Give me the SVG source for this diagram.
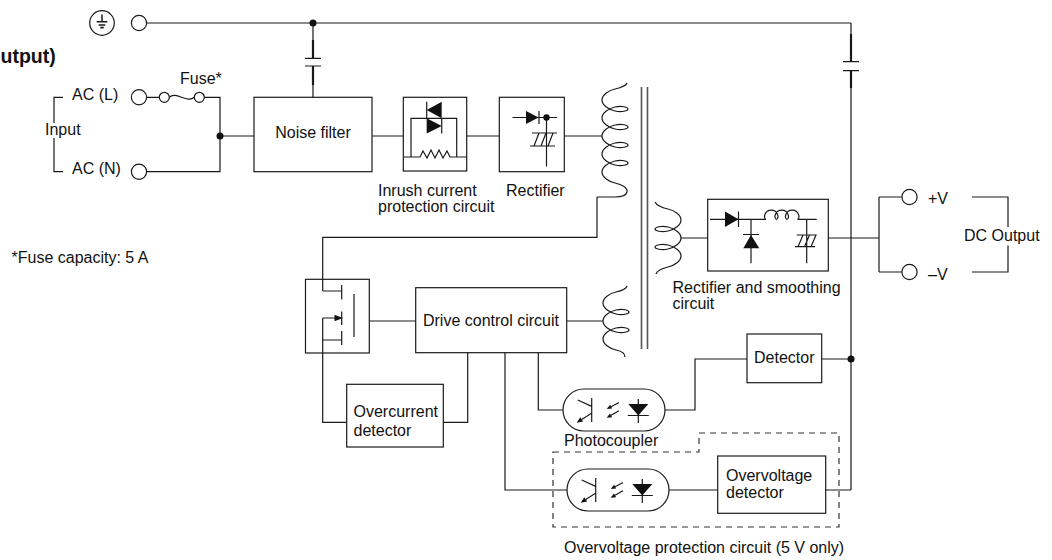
<svg xmlns="http://www.w3.org/2000/svg" width="1052" height="560" viewBox="0 0 1052 560">
<defs>
<style>
.w{fill:none;stroke:#1a1a1a;stroke-width:1.2}
.k{fill:none;stroke:#1a1a1a;stroke-width:2.2}
.f{fill:#111;stroke:none}
.core{fill:none;stroke:#555;stroke-width:1.6}
.dash{fill:none;stroke:#333;stroke-width:1.2;stroke-dasharray:6,5}
.t{font-family:"Liberation Sans",Arial,Helvetica,sans-serif;font-size:16px;fill:#111}
.m{text-anchor:middle}
.bold{font-weight:bold;font-size:19.5px}
</style>
<g id="opto">
<rect class="w" x="0" y="-21" width="102" height="42" rx="21"/>
<path class="w" d="M28.7,-12 V12 M14.7,-10 L28.7,-3.6 M28.5,3.3 L18.7,9.4 M56,-7.5 L48.1,-3.3 M56,0.8 L48,5.3 M75.3,-11 V13 M64.8,5.5 H85.8"/>
<polygon class="f" points="13.7,12.7 20.15,11.57 17.29,7.23"/>
<polygon class="f" points="43.7,-1 49.15,-1.4 47.09,-5.28"/>
<polygon class="f" points="43.7,7.8 49.14,7.23 46.96,3.41"/>
<polygon class="f" points="65.3,-6 85.3,-6 75.3,5.5"/>
</g>
</defs>
<rect width="1052" height="560" fill="#fff"/>

<g id="connectors">
<path class="w" d="M146.5,23 H851"/>
<path class="w" d="M313,23 V40 M313,85 V97.3 M305,58.3 H321 M305,66 H321"/>
<path class="k" d="M313,40 V58.3 M313,66 V85"/>
<path class="w" d="M851,23 V34 M851,88 V490 M843,61.7 H859 M843,70.7 H859"/>
<path class="k" d="M851,34 V61.7 M851,70.7 V88"/>
<path class="w" d="M146.5,97.3 H159.3 M169.3,97.3 C176,90.5 187,104 194.3,97.3 M204.3,97.3 H220 V171.7 H146.5"/>
<path class="w" d="M220,136 H254 M372,136 H403.3 M466.7,136 H499.3 M564.3,136 H602"/>
<path class="w" d="M597,197 V237.3 H322.7 V291"/>
<path class="w" d="M322.7,318 V422.3 H346.7"/>
<path class="w" d="M369.3,321 H415.7 M566.7,321 H603"/>
<path class="w" d="M467.7,352.7 V422.3 H443.3"/>
<path class="w" d="M505,352.7 V490 H567"/>
<path class="w" d="M538.3,352.7 V410 H563"/>
<path class="w" d="M665,410 H695 V359 H747 M821.7,359 H851"/>
<path class="w" d="M669,490 H717.7 M825.7,490 H851"/>
<path class="w" d="M681,238 H707.7 M828.3,238 H879 M879,197 V272 M879,197 H901.7 M879,272 H901.7"/>
<path class="w" d="M972,197 H1008 V227 M1008,245.5 V272 H972"/>
<path class="w" d="M63,97.3 H54 V123 M54,138 V171.7 H63"/>
<circle class="f" cx="313" cy="23" r="3.5"/>
<circle class="f" cx="220" cy="136" r="3.5"/>
<circle class="f" cx="851" cy="359" r="3.5"/>
</g>

<g id="terminals">
<circle class="w" cx="102" cy="23" r="12.3"/>
<path class="w" d="M102,14.5 V21.7" style="stroke-width:1.5"/>
<path class="w" d="M96.7,21.7 H107.3 M98.7,25 H105.3 M100.3,27.6 H103.7" style="stroke-width:1.6"/>
<circle class="w" cx="139" cy="23" r="7.6"/>
<circle class="w" cx="139" cy="97.3" r="7.6"/>
<circle class="w" cx="139" cy="171.7" r="7.6"/>
<circle class="w" cx="909.5" cy="197" r="7.6"/>
<circle class="w" cx="909.5" cy="272" r="7.6"/>
</g>

<g id="fuse">
<circle class="w" cx="164.3" cy="97.3" r="5"/>
<circle class="w" cx="199.3" cy="97.3" r="5"/>
</g>

<g id="noise-filter">
<rect class="w" x="254" y="97.3" width="118" height="74.4"/>
<text class="t m" x="313" y="138">Noise filter</text>
</g>

<g id="inrush">
<rect class="w" x="403.3" y="97.3" width="63.4" height="73.7"/>
<path class="w" d="M411,157 V118.3 H456.7 V157 M403.3,157 H420 L423,151 L427,158 L431,150 L435,158 L439,150 L443,158 L447,151 L450,157 H466.7 M426.7,101.7 V118.3 M441.7,118.3 V133.5"/>
<polygon class="f" points="441.7,101.7 441.7,118.3 426.7,110"/>
<polygon class="f" points="426.7,118.3 426.7,133.5 441.7,126"/>
</g>

<g id="rectifier">
<rect class="w" x="499.3" y="97.3" width="65" height="74.4"/>
<path class="w" d="M512.5,117.5 H557 M539,111 V124 M546.5,117.5 V166.5 M532,133 H557 M530,146 H555 M534,146 L539,133 M541,146 L546,133 M548,146 L553,133"/>
<polygon class="f" points="526,111 526,124 538.5,117.5"/>
<circle class="f" cx="546.5" cy="117.5" r="3.2"/>
</g>

<g id="transformer">
<path class="core" d="M641.5,87 V349 M647.5,87 V349"/>
<path class="w" d="M627,83 C626,86 621.8,87.5 615,89 c-6.81,1.5 -13,6.1 -13,11 c0,4.9 6.19,9.5 13,11 c6.81,1.5 13,-0.1 13,-2 c0,-1.9 -6.19,-3.5 -13,-2 c-6.81,1.5 -13,6.1 -13,11 c0,4.9 6.19,9.5 13,11 c6.81,1.5 13,-0.1 13,-2 c0,-1.9 -6.19,-3.5 -13,-2 c-6.81,1.5 -13,6.1 -13,11 c0,4.9 6.19,9.5 13,11 c6.81,1.5 13,-0.1 13,-2 c0,-1.9 -6.19,-3.5 -13,-2 c-6.81,1.5 -13,6.1 -13,11 c0,4.9 6.19,9.5 13,11 c6.81,1.5 13,-0.1 13,-2 c0,-1.9 -6.19,-3.5 -13,-2 c-6.81,1.5 -13,6.1 -13,11 c0,4.9 6.19,9.5 13,11 C622,184.5 628,188 627,192 C626,196 621,197 615,197 H597"/>
<path class="w" d="M655,202 C656.5,205 661.2,207.5 668,209 c6.81,1.5 13,6.1 13,11 c0,4.9 -6.19,9.5 -13,11 c-6.81,1.5 -13,-0.1 -13,-2 c0,-1.9 6.19,-3.5 13,-2 c6.81,1.5 13,6.1 13,11 c0,4.9 -6.19,9.5 -13,11 c-6.81,1.5 -13,-0.1 -13,-2 c0,-1.9 6.19,-3.5 13,-2 c6.81,1.5 13,6.1 13,11 c0,4.9 -6.19,9.5 -13,11 C662,268.5 657,270 656,274"/>
<path class="w" d="M627,286 C626,289 622.8,290.5 616,292 c-6.81,1.5 -13,6.1 -13,11 c0,4.9 6.19,9.5 13,11 c6.81,1.5 13,-0.1 13,-2 c0,-1.9 -6.19,-3.5 -13,-2 c-6.81,1.5 -13,6.1 -13,11 c0,4.9 6.19,9.5 13,11 c6.81,1.5 13,-0.1 13,-2 c0,-1.9 -6.19,-3.5 -13,-2 c-6.81,1.5 -13,6.1 -13,11 c0,4.9 6.19,9.5 13,11 C621,351 625,353 625,357"/>
</g>

<g id="smoothing">
<rect class="w" x="707.7" y="199.3" width="120.6" height="71.7"/>
<path class="w" d="M710,219.3 H766 c-1.11,0 -2.04,-2.17 -1.17,-4.55 c0.87,-2.38 3.56,-4.55 6.41,-4.55 c2.86,0 5.54,2.17 6.41,4.55 c0.87,2.38 -0.06,4.55 -1.17,4.55 c-1.11,0 -2.04,-2.17 -1.17,-4.55 c0.87,-2.38 3.56,-4.55 6.41,-4.55 c2.86,0 5.54,2.17 6.41,4.55 c0.87,2.38 -0.06,4.55 -1.17,4.55 c-1.11,0 -2.04,-2.17 -1.17,-4.55 c0.87,-2.38 3.56,-4.55 6.41,-4.55 c2.86,0 5.54,2.17 6.41,4.55 c0.87,2.38 -0.06,4.55 -1.17,4.55 H816.7 M806.7,219.3 V263.3 M796.7,235 H816.7 M795,246.7 H815 M798,246.7 L803,235 M804.5,246.7 L809.5,235 M811,246.7 L816,235 M738.5,211.5 V227 M751,219.3 V263.3 M743,234.5 H759"/>
<polygon class="f" points="725,211.5 725,227 738.5,219.3"/>
<polygon class="f" points="743.3,248.3 759.3,248.3 751,235"/>
</g>

<g id="mosfet">
<rect class="w" x="305.5" y="279.3" width="63.8" height="73.7"/>
<path class="w" d="M322.7,291 H341.7 M341.7,285 V299.5 M341.7,311.5 V325 M341.7,331 V345 M354,294 V337 M322.7,318 H336 M322.7,340 H341.7"/>
<polygon class="f" points="343,318 334.5,314.8 334.5,321.2"/>
</g>

<g id="drive-control">
<rect class="w" x="415.7" y="287.7" width="151" height="65"/>
<text class="t m" x="491" y="326">Drive control circuit</text>
</g>

<g id="overcurrent">
<rect class="w" x="346.7" y="384.3" width="96.6" height="62.7"/>
<text class="t" x="353.5" y="417.3">Overcurrent</text>
<text class="t" x="353.5" y="435.7">detector</text>
</g>

<g id="photocoupler">
<use href="#opto" x="563" y="410"/>
<text class="t" x="564" y="446">Photocoupler</text>
</g>

<g id="photocoupler-ov">
<use href="#opto" x="567" y="490"/>
</g>

<g id="detector">
<rect class="w" x="747" y="334" width="74.7" height="48.7"/>
<text class="t m" x="784.3" y="363">Detector</text>
</g>

<g id="overvoltage-detector">
<rect class="w" x="717.7" y="456" width="108" height="57.3"/>
<text class="t" x="726" y="481">Overvoltage</text>
<text class="t" x="726" y="498">detector</text>
</g>

<g id="overvoltage-protection">
<path class="dash" d="M553,452 H699 V433 H839 V527 H553 Z"/>
<text class="t" x="564" y="553">Overvoltage protection circuit (5 V only)</text>
</g>

<g id="labels">
<text class="t bold" x="0.5" y="63.3">utput)</text>
<text class="t" x="180" y="84">Fuse*</text>
<text class="t" x="72" y="100">AC (L)</text>
<text class="t" x="45" y="135">Input</text>
<text class="t" x="72" y="173.5">AC (N)</text>
<text class="t" x="11.5" y="263">*Fuse capacity: 5 A</text>
<text class="t" x="378" y="196">Inrush current</text>
<text class="t" x="378" y="212">protection circuit</text>
<text class="t" x="506" y="196">Rectifier</text>
<text class="t" x="672.5" y="293">Rectifier and smoothing</text>
<text class="t" x="672.5" y="309">circuit</text>
<text class="t" x="928" y="204">+V</text>
<text class="t" x="928" y="279.5">–V</text>
<text class="t" x="964" y="240.5">DC Output</text>
</g>
</svg>
